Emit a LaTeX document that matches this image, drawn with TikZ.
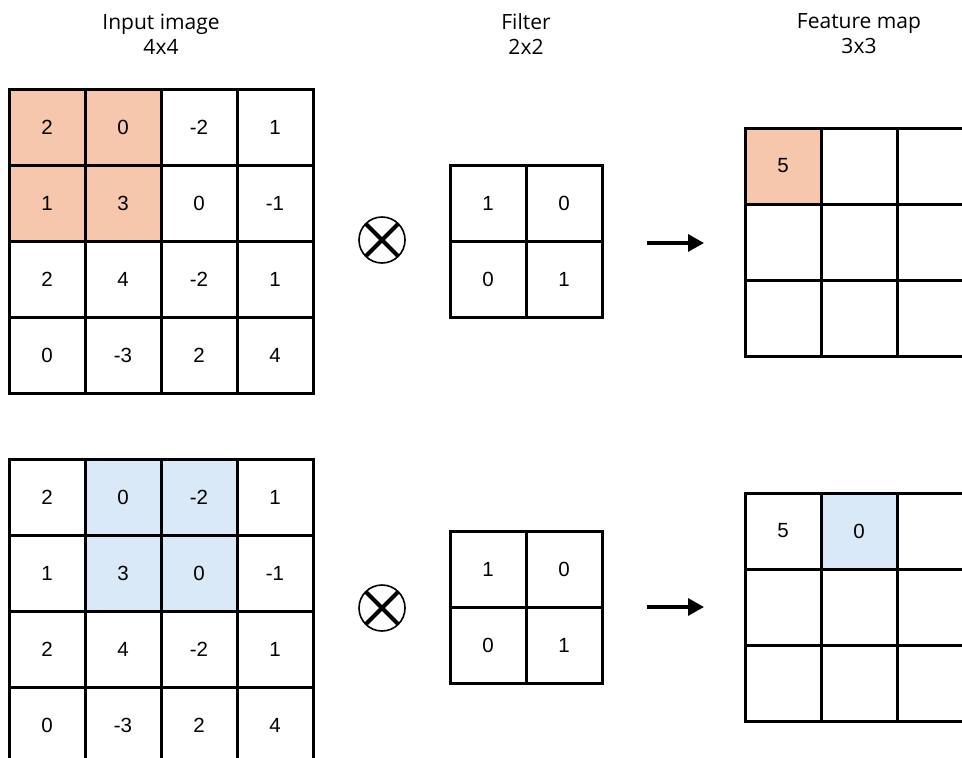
\documentclass[tikz,border=0pt]{standalone}
\usepackage{fontspec}
\setmainfont{Liberation Sans}
\newfontfamily\titlefont{Open Sans}
\usetikzlibrary{arrows.meta}
\definecolor{hlorange}{HTML}{F6C6AD}
\definecolor{hlblue}{HTML}{DAE9F7}
\tikzset{
  cell/.style={draw=black, line width=3pt, minimum size=76pt, inner sep=0pt,
    outer sep=0pt, font=\fontsize{20.5}{22}\selectfont},
  title/.style={font=\titlefont\fontsize{21}{25}\selectfont, align=center},
  convop/.style={circle, draw=black, line width=1.6pt, minimum size=46pt,
    inner sep=0pt, outer sep=0pt},
  cross/.style={line width=4pt},
  flow/.style={line width=3.4pt, -{Triangle[length=16pt,width=17pt]}},
  % highlighted windows
  hla11/.style={fill=hlorange}, hla12/.style={fill=hlorange},
  hla21/.style={fill=hlorange}, hla22/.style={fill=hlorange},
  hlb12/.style={fill=hlblue}, hlb13/.style={fill=hlblue},
  hlb22/.style={fill=hlblue}, hlb23/.style={fill=hlblue},
}
\begin{document}
\begin{tikzpicture}[x=1pt,y=-1pt]
\useasboundingbox (0,0) rectangle (962,758);
\clip (0,0) rectangle (962,758);

% column titles
\node[title] (t-in) at (161,34) {Input image\\4x4};
\node[title] (t-filter) at (526,34) {Filter\\2x2};
\node[title] (t-map) at (859,34) {Feature map\\3x3};

% input images (top: step 1, bottom: step 2)
\foreach \g/\top in {a/89, b/459} {
  \foreach \row [count=\r] in {{2,0,-2,1},{1,3,0,-1},{2,4,-2,1},{0,-3,2,4}} {
    \foreach \v [count=\c] in \row {
      \node[cell, hl\g\r\c/.try] (in\g-\r-\c)
        at ({47+76*(\c-1)}, {\top+38+76*(\r-1)}) {\v};
    }
  }
}

% filters
\foreach \g/\top in {a/165, b/531} {
  \foreach \row [count=\r] in {{1,0},{0,1}} {
    \foreach \v [count=\c] in \row {
      \node[cell] (f\g-\r-\c) at ({488+76*(\c-1)}, {\top+38+76*(\r-1)}) {\v};
    }
  }
}

% feature maps
\foreach \g/\top in {a/128, b/493} {
  \foreach \r in {1,2,3} {
    \foreach \c in {1,2,3} {
      \node[cell] (m\g-\r-\c) at ({783+76*(\c-1)}, {\top+38+76*(\r-1)}) {};
    }
  }
}
\node[cell, fill=hlorange] (ma-1-1) at (783,166) {5};
\node[cell] (mb-1-1) at (783,531) {5};
\node[cell, fill=hlblue] (mb-1-2) at (859,531) {0};

% convolution operators
\foreach \g/\y in {a/240, b/608} {
  \node[convop] (op\g) at (382,\y) {};
  \draw[cross] (op\g.north west) -- (op\g.south east);
  \draw[cross] (op\g.north east) -- (op\g.south west);
}

% arrows to the feature maps
\coordinate (ar-a-s) at (647,243);
\coordinate (ar-a-e) at (704,243);
\coordinate (ar-b-s) at (647,607);
\coordinate (ar-b-e) at (704,607);
\draw[flow] (ar-a-s) -- (ar-a-e);
\draw[flow] (ar-b-s) -- (ar-b-e);
\end{tikzpicture}
\end{document}
